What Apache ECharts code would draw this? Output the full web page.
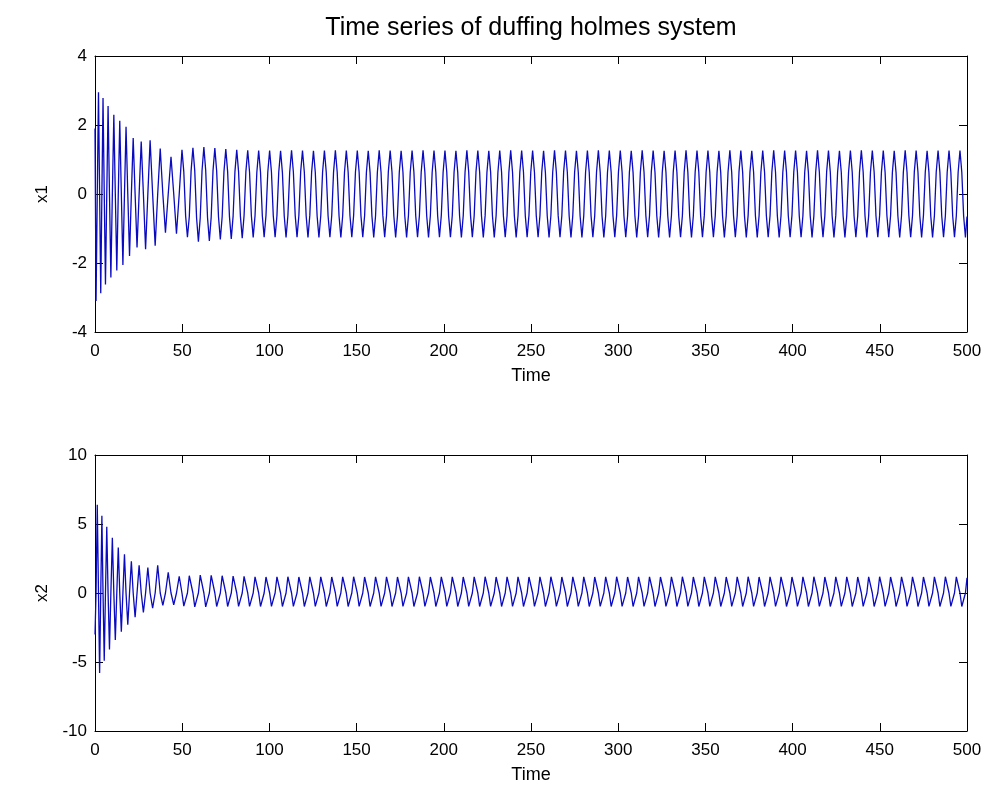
<!DOCTYPE html>
<html>
<head>
<meta charset="utf-8">
<script src="https://cdn.jsdelivr.net/npm/echarts@6/dist/echarts.min.js"></script>
<style>html,body{margin:0;padding:0;background:#fff}#c{width:991px;height:800px}</style>
</head>
<body>
<div id="c"></div>
<script>
// ---- data ----
const titleText = 'Time series of duffing holmes system';
const xName = 'Time';
const y1Name = 'x1';
const y2Name = 'x2';

const time = [
 0,0.6,1.3,2.0,2.65,3.3,3.95,4.6,5.3,6.0,6.75,7.5,8.3,9.1,9.95,10.8,11.65,12.5,13.35,14.2,15.1,16.0,16.9,17.8,18.8,19.8,20.85,21.9,23.0,24.1,25.3,26.5,27.75,29.0,30.3,31.6,33.05,34.5,35.95,37.4,38.9,40.4,41.99,43.58,45.15,46.72,48.29,
 49.87,50.92,51.96,53.01,54.06,55.10, 56.15,57.20,58.24,59.29,60.34,61.38,
 62.43,63.48,64.52,65.57,66.62,67.66, 68.72,69.77,70.81,71.86,72.91,73.95,
 75.00,76.05,77.09,78.14,79.19,80.23, 81.28,82.33,83.37,84.42,85.47,86.51,
 87.57,88.62,89.66,90.71,91.76,92.80, 93.85,94.90,95.94,96.99,98.04,99.08,
 100.13,101.18,102.22,103.27,104.32,105.36, 106.41,107.46,108.50,109.55,110.60,111.64,
 112.70,113.75,114.79,115.84,116.89,117.93, 118.98,120.03,121.07,122.12,123.17,124.21,
 125.26,126.31,127.35,128.40,129.45,130.49, 131.55,132.60,133.64,134.69,135.74,136.78,
 137.83,138.88,139.92,140.97,142.02,143.06, 144.11,145.16,146.20,147.25,148.30,149.34,
 150.40,151.45,152.49,153.54,154.59,155.63, 156.68,157.73,158.77,159.82,160.87,161.91,
 162.96,164.01,165.05,166.10,167.15,168.19, 169.25,170.30,171.34,172.39,173.44,174.48,
 175.53,176.58,177.62,178.67,179.72,180.76, 181.81,182.86,183.90,184.95,186.00,187.04,
 188.10,189.15,190.19,191.24,192.29,193.33, 194.38,195.43,196.47,197.52,198.57,199.61,
 200.66,201.71,202.75,203.80,204.85,205.89, 206.95,208.00,209.04,210.09,211.14,212.18,
 213.23,214.28,215.32,216.37,217.42,218.46, 219.51,220.56,221.60,222.65,223.70,224.74,
 225.80,226.85,227.89,228.94,229.99,231.03, 232.08,233.13,234.17,235.22,236.27,237.31,
 238.36,239.41,240.45,241.50,242.55,243.59, 244.64,245.69,246.73,247.78,248.83,249.87,
 250.93,251.98,253.02,254.07,255.12,256.16, 257.21,258.26,259.30,260.35,261.40,262.44,
 263.49,264.54,265.58,266.63,267.68,268.72, 269.78,270.83,271.87,272.92,273.97,275.01,
 276.06,277.11,278.15,279.20,280.25,281.29, 282.34,283.39,284.43,285.48,286.53,287.57,
 288.63,289.68,290.72,291.77,292.82,293.86, 294.91,295.96,297.00,298.05,299.10,300.14,
 301.19,302.24,303.28,304.33,305.38,306.42, 307.48,308.53,309.57,310.62,311.67,312.71,
 313.76,314.81,315.85,316.90,317.95,318.99, 320.04,321.09,322.13,323.18,324.23,325.27,
 326.33,327.38,328.42,329.47,330.52,331.56, 332.61,333.66,334.70,335.75,336.80,337.84,
 338.89,339.94,340.98,342.03,343.08,344.12, 345.18,346.23,347.27,348.32,349.37,350.41,
 351.46,352.51,353.55,354.60,355.65,356.69, 357.74,358.79,359.83,360.88,361.93,362.97,
 364.03,365.08,366.12,367.17,368.22,369.26, 370.31,371.36,372.40,373.45,374.50,375.54,
 376.59,377.64,378.68,379.73,380.78,381.82, 382.87,383.92,384.96,386.01,387.06,388.10,
 389.16,390.21,391.25,392.30,393.35,394.39, 395.44,396.49,397.53,398.58,399.63,400.67,
 401.72,402.77,403.81,404.86,405.91,406.95, 408.01,409.06,410.10,411.15,412.20,413.24,
 414.29,415.34,416.38,417.43,418.48,419.52, 420.57,421.62,422.66,423.71,424.76,425.80,
 426.86,427.91,428.95,430.00,431.05,432.09, 433.14,434.19,435.23,436.28,437.33,438.37,
 439.42,440.47,441.51,442.56,443.61,444.65, 445.71,446.76,447.80,448.85,449.90,450.94,
 451.99,453.04,454.08,455.13,456.18,457.22, 458.27,459.32,460.36,461.41,462.46,463.50,
 464.56,465.61,466.65,467.70,468.75,469.79, 470.84,471.89,472.93,473.98,475.03,476.07,
 477.12,478.17,479.21,480.26,481.31,482.35, 483.41,484.46,485.50,486.55,487.60,488.64,
 489.69,490.74,491.78,492.83,493.88,494.92, 495.97,497.02,498.06,499.11,500.00
];

const x1 = [
 1.9,-3.1,0,2.95,0,-2.88,0,2.78,0,-2.62,0,2.55,0,-2.42,0,2.3,0,-2.22,0,2.12,0,-2.06,0,1.95,0,-1.8,0,1.62,0,-1.55,0,1.52,0,-1.6,0,1.56,0,-1.5,0,1.32,0,-1.12,0,1.08,0,-1.15,0,
 1.28,0.64,-0.63,-1.25,-0.66,0.67, 1.34,0.67,-0.69,-1.38,-0.69,0.68,
 1.36,0.68,-0.68,-1.36,-0.67,0.67, 1.33,0.66,-0.66,-1.32,-0.66,0.65,
 1.30,0.65,-0.65,-1.30,-0.64,0.64, 1.28,0.64,-0.64,-1.28,-0.63,0.64,
 1.27,0.63,-0.63,-1.26,-0.63,0.63, 1.26,0.63,-0.63,-1.25,-0.62,0.63,
 1.26,0.63,-0.63,-1.25,-0.63,0.63, 1.25,0.62,-0.63,-1.26,-0.63,0.63,
 1.27,0.63,-0.62,-1.25,-0.63,0.64, 1.26,0.63,-0.63,-1.26,-0.62,0.63,
 1.25,0.63,-0.63,-1.26,-0.63,0.63, 1.26,0.63,-0.63,-1.25,-0.63,0.63,
 1.27,0.63,-0.63,-1.26,-0.63,0.63, 1.26,0.63,-0.63,-1.25,-0.62,0.63,
 1.26,0.63,-0.63,-1.25,-0.63,0.63, 1.25,0.62,-0.63,-1.26,-0.63,0.63,
 1.27,0.63,-0.62,-1.25,-0.63,0.64, 1.26,0.63,-0.63,-1.26,-0.62,0.63,
 1.25,0.63,-0.63,-1.26,-0.63,0.63, 1.26,0.63,-0.63,-1.25,-0.63,0.63,
 1.27,0.63,-0.63,-1.26,-0.63,0.63, 1.26,0.63,-0.63,-1.25,-0.62,0.63,
 1.26,0.63,-0.63,-1.25,-0.63,0.63, 1.25,0.62,-0.63,-1.26,-0.63,0.63,
 1.27,0.63,-0.62,-1.25,-0.63,0.64, 1.26,0.63,-0.63,-1.26,-0.62,0.63,
 1.25,0.63,-0.63,-1.26,-0.63,0.63, 1.26,0.63,-0.63,-1.25,-0.63,0.63,
 1.27,0.63,-0.63,-1.26,-0.63,0.63, 1.26,0.63,-0.63,-1.25,-0.62,0.63,
 1.26,0.63,-0.63,-1.25,-0.63,0.63, 1.25,0.62,-0.63,-1.26,-0.63,0.63,
 1.27,0.63,-0.62,-1.25,-0.63,0.64, 1.26,0.63,-0.63,-1.26,-0.62,0.63,
 1.25,0.63,-0.63,-1.26,-0.63,0.63, 1.26,0.63,-0.63,-1.25,-0.63,0.63,
 1.27,0.63,-0.63,-1.26,-0.63,0.63, 1.26,0.63,-0.63,-1.25,-0.62,0.63,
 1.26,0.63,-0.63,-1.25,-0.63,0.63, 1.25,0.62,-0.63,-1.26,-0.63,0.63,
 1.27,0.63,-0.62,-1.25,-0.63,0.64, 1.26,0.63,-0.63,-1.26,-0.62,0.63,
 1.25,0.63,-0.63,-1.26,-0.63,0.63, 1.26,0.63,-0.63,-1.25,-0.63,0.63,
 1.27,0.63,-0.63,-1.26,-0.63,0.63, 1.26,0.63,-0.63,-1.25,-0.62,0.63,
 1.26,0.63,-0.63,-1.25,-0.63,0.63, 1.25,0.62,-0.63,-1.26,-0.63,0.63,
 1.27,0.63,-0.62,-1.25,-0.63,0.64, 1.26,0.63,-0.63,-1.26,-0.62,0.63,
 1.25,0.63,-0.63,-1.26,-0.63,0.63, 1.26,0.63,-0.63,-1.25,-0.63,0.63,
 1.27,0.63,-0.63,-1.26,-0.63,0.63, 1.26,0.63,-0.63,-1.25,-0.62,0.63,
 1.26,0.63,-0.63,-1.25,-0.63,0.63, 1.25,0.62,-0.63,-1.26,-0.63,0.63,
 1.27,0.63,-0.62,-1.25,-0.63,0.64, 1.26,0.63,-0.63,-1.26,-0.62,0.63,
 1.25,0.63,-0.63,-1.26,-0.63,0.63, 1.26,0.63,-0.63,-1.25,-0.63,0.63,
 1.27,0.63,-0.63,-1.26,-0.63,0.63, 1.26,0.63,-0.63,-1.25,-0.62,0.63,
 1.26,0.63,-0.63,-1.25,-0.63,0.63, 1.25,0.62,-0.63,-1.26,-0.63,0.63,
 1.27,0.63,-0.62,-1.25,-0.63,0.64, 1.26,0.63,-0.63,-1.26,-0.62,0.63,
 1.25,0.63,-0.63,-1.26,-0.63,0.63, 1.26,0.63,-0.63,-1.25,-0.63,0.63,
 1.26,0.63,-0.63,-1.25,-0.63,0.63, 1.26,0.63,-0.63,-1.26,-0.65
];

const x2 = [
 -3.0,0,6.4,0,-5.8,0,5.6,0,-4.9,0,4.8,0,-4.1,0,4.0,0,-3.4,0,3.3,0,-2.8,0,2.8,0,-2.3,0,2.3,0,-1.75,0,2.0,0,-1.4,0,1.85,0,-1.1,0,2.0,0,-0.9,0,1.5,0,-0.85,0,1.2,
 0,-0.95,-0.95,0,1.25,1.25, 0,-1.0,-1.0,0,1.3,1.3,
 0,-1.0,-1.0,0,1.28,1.28, 0,-0.98,-0.98,0,1.25,1.25,
 0,-0.98,-0.98,0,1.22,1.22, 0,-0.97,-0.97,0,1.2,1.2,
 0,-0.97,-0.98,0,1.17,1.16, 0,-0.98,-0.97,0,1.16,1.18,
 0,-0.97,-0.97,0,1.17,1.17, 0,-0.98,-0.98,0,1.18,1.16,
 0,-0.97,-0.98,0,1.16,1.17, 0,-0.98,-0.97,0,1.17,1.18,
 0,-0.97,-0.98,0,1.17,1.16, 0,-0.98,-0.97,0,1.16,1.18,
 0,-0.97,-0.97,0,1.17,1.17, 0,-0.98,-0.98,0,1.18,1.16,
 0,-0.97,-0.98,0,1.16,1.17, 0,-0.98,-0.97,0,1.17,1.18,
 0,-0.97,-0.98,0,1.17,1.16, 0,-0.98,-0.97,0,1.16,1.18,
 0,-0.97,-0.97,0,1.17,1.17, 0,-0.98,-0.98,0,1.18,1.16,
 0,-0.97,-0.98,0,1.16,1.17, 0,-0.98,-0.97,0,1.17,1.18,
 0,-0.97,-0.98,0,1.17,1.16, 0,-0.98,-0.97,0,1.16,1.18,
 0,-0.97,-0.97,0,1.17,1.17, 0,-0.98,-0.98,0,1.18,1.16,
 0,-0.97,-0.98,0,1.16,1.17, 0,-0.98,-0.97,0,1.17,1.18,
 0,-0.97,-0.98,0,1.17,1.16, 0,-0.98,-0.97,0,1.16,1.18,
 0,-0.97,-0.97,0,1.17,1.17, 0,-0.98,-0.98,0,1.18,1.16,
 0,-0.97,-0.98,0,1.16,1.17, 0,-0.98,-0.97,0,1.17,1.18,
 0,-0.97,-0.98,0,1.17,1.16, 0,-0.98,-0.97,0,1.16,1.18,
 0,-0.97,-0.97,0,1.17,1.17, 0,-0.98,-0.98,0,1.18,1.16,
 0,-0.97,-0.98,0,1.16,1.17, 0,-0.98,-0.97,0,1.17,1.18,
 0,-0.97,-0.98,0,1.17,1.16, 0,-0.98,-0.97,0,1.16,1.18,
 0,-0.97,-0.97,0,1.17,1.17, 0,-0.98,-0.98,0,1.18,1.16,
 0,-0.97,-0.98,0,1.16,1.17, 0,-0.98,-0.97,0,1.17,1.18,
 0,-0.97,-0.98,0,1.17,1.16, 0,-0.98,-0.97,0,1.16,1.18,
 0,-0.97,-0.97,0,1.17,1.17, 0,-0.98,-0.98,0,1.18,1.16,
 0,-0.97,-0.98,0,1.16,1.17, 0,-0.98,-0.97,0,1.17,1.18,
 0,-0.97,-0.98,0,1.17,1.16, 0,-0.98,-0.97,0,1.16,1.18,
 0,-0.97,-0.97,0,1.17,1.17, 0,-0.98,-0.98,0,1.18,1.16,
 0,-0.97,-0.98,0,1.16,1.17, 0,-0.98,-0.97,0,1.17,1.18,
 0,-0.97,-0.98,0,1.17,1.16, 0,-0.98,-0.97,0,1.16,1.18,
 0,-0.97,-0.97,0,1.17,1.17, 0,-0.98,-0.98,0,1.18,1.16,
 0,-0.97,-0.98,0,1.16,1.17, 0,-0.98,-0.97,0,1.17,1.18,
 0,-0.97,-0.98,0,1.17,1.16, 0,-0.98,-0.97,0,1.16,1.18,
 0,-0.97,-0.97,0,1.17,1.17, 0,-0.98,-0.98,0,1.18,1.16,
 0,-0.97,-0.97,0,1.17,1.17, 0,-0.98,-0.97,0,1.1
];

const xRange = [0, 500], xStep = 50;
const y1Range = [-4, 4], y1Step = 2;
const y2Range = [-10, 10], y2Step = 5;

// ---- chart ----
const FONT = '"Liberation Sans Narrow","Arial Narrow","Liberation Sans",Arial,sans-serif';
const LINE = '#0a0ac0';
const axisCommon = {
  axisLine: { show: true, onZero: false, lineStyle: { color: '#000', width: 1 } },
  axisTick: { show: true, inside: true, length: 8, lineStyle: { color: '#000' } },
  splitLine: { show: false },
  axisLabel: { color: '#000', fontFamily: FONT, fontSize: 17 }
};
function xAx(grid, pos, labels) {
  return Object.assign({}, axisCommon, {
    type: 'value', gridIndex: grid, position: pos, min: xRange[0], max: xRange[1], interval: xStep,
    axisLabel: Object.assign({}, axisCommon.axisLabel, { show: labels, margin: 11 }),
    name: labels ? xName : '', nameLocation: 'middle', nameGap: 35,
    nameTextStyle: { color: '#000', fontFamily: FONT, fontSize: 18 }
  });
}
function yAx(grid, pos, r, s, labels, nm) {
  return Object.assign({}, axisCommon, {
    type: 'value', gridIndex: grid, position: pos, min: r[0], max: r[1], interval: s,
    axisLabel: Object.assign({}, axisCommon.axisLabel, { show: labels, margin: 8 }),
    name: labels ? nm : '', nameLocation: 'middle', nameGap: 44, nameRotate: 90,
    nameTextStyle: { color: '#000', fontFamily: FONT, fontSize: 17 }
  });
}
const chart = echarts.init(document.getElementById('c'), null, { renderer: 'canvas' });
chart.setOption({
  animation: false,
  backgroundColor: '#ffffff',
  graphic: [{
    type: 'text', x: 531, y: 28,
    style: { text: titleText, fill: '#000', font: '25px ' + FONT, textAlign: 'center', textVerticalAlign: 'middle' }
  }],
  grid: [
    { left: 95, right: 24, top: 56, height: 276 },
    { left: 95, right: 24, top: 455, height: 276 }
  ],
  xAxis: [xAx(0, 'bottom', true), xAx(0, 'top', false), xAx(1, 'bottom', true), xAx(1, 'top', false)],
  yAxis: [
    yAx(0, 'left', y1Range, y1Step, true, y1Name), yAx(0, 'right', y1Range, y1Step, false, ''),
    yAx(1, 'left', y2Range, y2Step, true, y2Name), yAx(1, 'right', y2Range, y2Step, false, '')
  ],
  series: [
    { type: 'line', xAxisIndex: 0, yAxisIndex: 0, data: time.map((t, i) => [t, x1[i]]),
      showSymbol: false, symbol: 'none', lineStyle: { color: LINE, width: 1.3 }, clip: true },
    { type: 'line', xAxisIndex: 2, yAxisIndex: 2, data: time.map((t, i) => [t, x2[i]]),
      showSymbol: false, symbol: 'none', lineStyle: { color: LINE, width: 1.3 }, clip: true }
  ]
});
</script>
</body>
</html>
